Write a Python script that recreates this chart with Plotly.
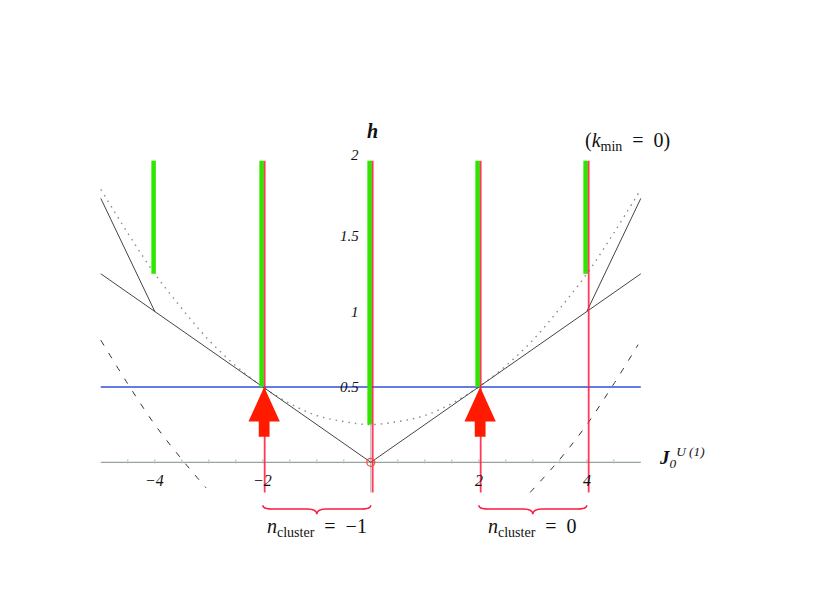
import plotly.graph_objects as go

# axis extent of the drawn frame (J and h units)
J_MIN, J_MAX = -5, 5
H_MIN, H_MAX = -0.2, 2.0

# dotted parabola
para_J = [-5, -4.5, -4, -3.5, -3, -2.5, -2, -1.5, -1, -0.5, 0,
          0.5, 1, 1.5, 2, 2.5, 3, 3.5, 4, 4.5, 5]
para_h = [1.81, 1.52, 1.25, 1.02, 0.81, 0.64, 0.5, 0.39, 0.31, 0.27, 0.25,
          0.27, 0.31, 0.39, 0.5, 0.64, 0.81, 1.02, 1.25, 1.52, 1.81]

# dashed branches
dash_left_J = [-5, -4.5, -4, -3.5, -3.05]
dash_left_h = [0.81, 0.52, 0.25, 0.02, -0.17]
dash_right_J = [2.95, 3.5, 4, 4.5, 4.95]
dash_right_h = [-0.2, 0.02, 0.25, 0.52, 0.78]

# solid broken lines
v_J = [-5, -4, 0, 4, 5]
v_h = [1.25, 1.0, 0.0, 1.0, 1.25]
steep_left_J = [-5, -4]
steep_left_h = [1.75, 1.0]
steep_right_J = [4, 5]
steep_right_h = [1.0, 1.75]

# green bars: start height at each J, all end at h = 2
green_J = [-4, -2, 0, 2, 4]
green_h0 = [1.25, 0.5, 0.25, 0.5, 1.25]

# red vertical lines
red_J = [-2, 0, 2, 4]

# red arrows
arrow_J = [-2, 2]
arrow_h0 = 0.17
arrow_h1 = 0.5

blue_h = 0.5

# ticks
xtick_vals = [-4, -2, 2, 4]
xtick_text = ["\u22124", "\u22122", "2", "4"]
ytick_vals = [0.5, 1, 1.5, 2]
ytick_text = ["0.5", "1", "1.5", "2"]
minor_J = [-4.5, -4, -3.5, -3, -2.5, -2, -1.5, -1, -0.5,
           0.5, 1, 1.5, 2, 2.5, 3, 3.5, 4, 4.5]

# braces and cluster labels
braces = [(-2, 0, "<i>n</i><sub>cluster</sub>  =  \u22121"),
          (2, 4, "<i>n</i><sub>cluster</sub>  =  0")]

SERIF = "Liberation Serif"
GREEN = "#2ee600"
RED = "#ff1a3c"

# page body has an 8px margin; figure is sized to fit inside the window
W, H = 809, 605
X0_PX, UX = 370.8 - 8, 54.0
Y0_PX, UY = 462.3 - 8, 150.8

fig = go.Figure()

# axes lines
fig.add_trace(go.Scatter(x=[J_MIN, J_MAX], y=[0, 0], mode="lines",
                         line=dict(color="#7f8c88", width=1), hoverinfo="skip"))
fig.add_trace(go.Scatter(x=[0, 0], y=[H_MIN, H_MAX], mode="lines",
                         line=dict(color="#b0b0b0", width=1), hoverinfo="skip"))
fig.add_trace(go.Scatter(x=minor_J, y=[0.006] * len(minor_J), mode="markers",
                         marker=dict(symbol="line-ns", size=3,
                                     line=dict(color="#b5bdba", width=1)),
                         hoverinfo="skip"))

# blue line
fig.add_trace(go.Scatter(x=[J_MIN, J_MAX], y=[blue_h, blue_h], mode="lines",
                         line=dict(color="#3050d8", width=1.5), hoverinfo="skip"))

# dotted parabola
fig.add_trace(go.Scatter(x=para_J, y=para_h, mode="lines",
                         line=dict(color="#8a8a8a", width=1.4, dash="1.5px,5px",
                                   shape="spline"), hoverinfo="skip"))

# dashed branches
for xs, ys in [(dash_left_J, dash_left_h), (dash_right_J, dash_right_h)]:
    fig.add_trace(go.Scatter(x=xs, y=ys, mode="lines",
                             line=dict(color="#333", width=1, dash="6px,9px",
                                       shape="spline"), hoverinfo="skip"))

# solid lines
for xs, ys in [(v_J, v_h), (steep_left_J, steep_left_h),
               (steep_right_J, steep_right_h)]:
    fig.add_trace(go.Scatter(x=xs, y=ys, mode="lines",
                             line=dict(color="#444", width=1), hoverinfo="skip"))

# green bars
for j, h0 in zip(green_J, green_h0):
    fig.add_trace(go.Scatter(x=[j - 0.022, j - 0.022], y=[h0, H_MAX], mode="lines",
                             line=dict(color=GREEN, width=4.5), hoverinfo="skip"))

# red lines
for j in red_J:
    fig.add_trace(go.Scatter(x=[j + 0.035, j + 0.035], y=[H_MIN, H_MAX], mode="lines",
                             line=dict(color=RED, width=1.8), opacity=0.85,
                             hoverinfo="skip"))

# red arrows
HEAD_LEN, HEAD_HW, SHAFT_HW = 0.23, 0.29, 0.1
for j in arrow_J:
    c = j + 0.025
    yb = arrow_h1 - HEAD_LEN
    xs = [c - SHAFT_HW, c + SHAFT_HW, c + SHAFT_HW, c + HEAD_HW, c,
          c - HEAD_HW, c - SHAFT_HW, c - SHAFT_HW]
    ys = [arrow_h0, arrow_h0, yb, yb, arrow_h1, yb, yb, arrow_h0]
    fig.add_trace(go.Scatter(x=xs, y=ys, mode="lines", fill="toself",
                             fillcolor="#ff1a00", line=dict(width=0, color="#ff1a00"),
                             hoverinfo="skip"))

# origin circle
fig.add_trace(go.Scatter(x=[0], y=[0], mode="markers",
                         marker=dict(symbol="circle-open", size=8,
                                     line=dict(color=RED, width=1.3)),
                         hoverinfo="skip"))

annotations = []
for v, t in zip(xtick_vals, xtick_text):
    annotations.append(dict(x=v, y=-0.12, text="<i>" + t + "</i>", showarrow=False,
                            font=dict(family=SERIF, size=16, color="#111")))
for v, t in zip(ytick_vals, ytick_text):
    annotations.append(dict(x=-0.18, y=v, text="<i>" + t + "</i>", showarrow=False,
                            xanchor="right", yshift=6 if v == 2 else 0,
                            font=dict(family=SERIF, size=15, color="#111")))

# braces
shapes = []
BR_TOP, BR_MID, BR_TIP, BR_D = -0.285, -0.31, -0.345, 0.17
for a, b, label in braces:
    m = (a + b) / 2
    path = (f"M {a},{BR_TOP} Q {a},{BR_MID} {a + BR_D},{BR_MID} "
            f"L {m - BR_D},{BR_MID} Q {m},{BR_MID} {m},{BR_TIP} "
            f"Q {m},{BR_MID} {m + BR_D},{BR_MID} "
            f"L {b - BR_D},{BR_MID} Q {b},{BR_MID} {b},{BR_TOP}")
    shapes.append(dict(type="path", path=path, xref="x", yref="y",
                       line=dict(color=RED, width=1.5)))
    annotations.append(dict(x=m, y=-0.43, text=label, showarrow=False,
                            font=dict(family=SERIF, size=20, color="#111")))

annotations.append(dict(x=0.03, y=2.2, text="<b><i>h</i></b>", showarrow=False,
                        font=dict(family=SERIF, size=20, color="#111")))
annotations.append(dict(x=4.75, y=2.13, text="(<i>k</i><sub>min</sub>  =  0)",
                        showarrow=False, font=dict(family=SERIF, size=20, color="#111")))
annotations.append(dict(x=5.3, y=0.03, xanchor="left",
                        text="<b><i>J</i></b><sub><i>0</i></sub><sup><i>U (1)</i></sup>",
                        showarrow=False, font=dict(family=SERIF, size=19, color="#111")))

fig.update_layout(
    width=W, height=H,
    margin=dict(l=0, r=0, t=0, b=0),
    paper_bgcolor="white", plot_bgcolor="white",
    showlegend=False,
    xaxis=dict(range=[-X0_PX / UX, (W - X0_PX) / UX], visible=False,
               fixedrange=True),
    yaxis=dict(range=[-(H - Y0_PX) / UY, Y0_PX / UY], visible=False,
               fixedrange=True),
    shapes=shapes,
    annotations=annotations,
)

fig.write_html("out.html")
